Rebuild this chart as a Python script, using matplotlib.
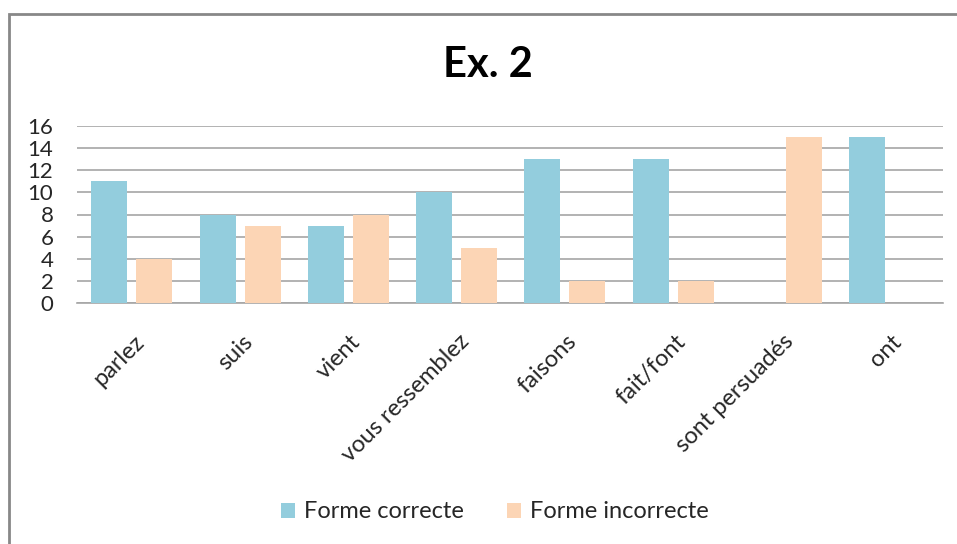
import numpy as np
import matplotlib.pyplot as plt
from matplotlib.patches import Rectangle

plt.rcParams['font.family'] = ['Lato', 'DejaVu Sans']

categories = ['parlez', 'suis', 'vient', 'vous ressemblez', 'faisons',
              'fait/font', 'sont persuadés', 'ont']
correcte = [11, 8, 7, 10, 13, 13, 0, 15]
incorrecte = [4, 7, 8, 5, 2, 2, 15, 0]

fig = plt.figure(figsize=(9.57, 5.44), dpi=100)
ax = fig.add_axes([77/957, 1 - 303/544, (943-77)/957, (303-126)/544])

x = np.arange(len(categories))
w = 0.333
ax.bar(x - 0.2, correcte, w, color='#93CDDD', label='Forme correcte', zorder=3)
ax.bar(x + 0.215, incorrecte, w, color='#FCD5B5', label='Forme incorrecte', zorder=3)

ax.set_xlim(-0.5, len(categories) - 0.5)
ax.set_ylim(0, 16)
ax.set_yticks(range(0, 17, 2))
ax.yaxis.grid(True, color='#A6A6A6', linewidth=1.2, zorder=0)
for s in ['top', 'right', 'left']:
    ax.spines[s].set_visible(False)
ax.spines['bottom'].set_color('#A6A6A6')
ax.spines['bottom'].set_linewidth(1.2)
ax.tick_params(length=0, colors='#262626')
ax.tick_params(axis='y', pad=17, labelsize=16)
ax.set_xticks(x + 0.02)
ax.set_xticklabels(categories, rotation=45, ha='right', rotation_mode='anchor')
ax.tick_params(axis='x', pad=20, labelsize=17)

fig.text(488/957, 1 - 65/544, 'Ex. 2', ha='center', va='center', fontsize=30,
         fontweight='bold', color='black')

fig.legend(loc='center', bbox_to_anchor=(495/957, 1 - 512/544), ncol=2,
           frameon=False, fontsize=17, handlelength=0.6, handleheight=0.6,
           columnspacing=1.8, handletextpad=0.4, labelcolor='#262626')

fig.patches.append(Rectangle((9/957, -0.1), 1.0, 1 - 14/544 + 0.1,
                             transform=fig.transFigure, fill=False,
                             edgecolor='#888888', linewidth=2))

fig.savefig('out.png', dpi=100)
